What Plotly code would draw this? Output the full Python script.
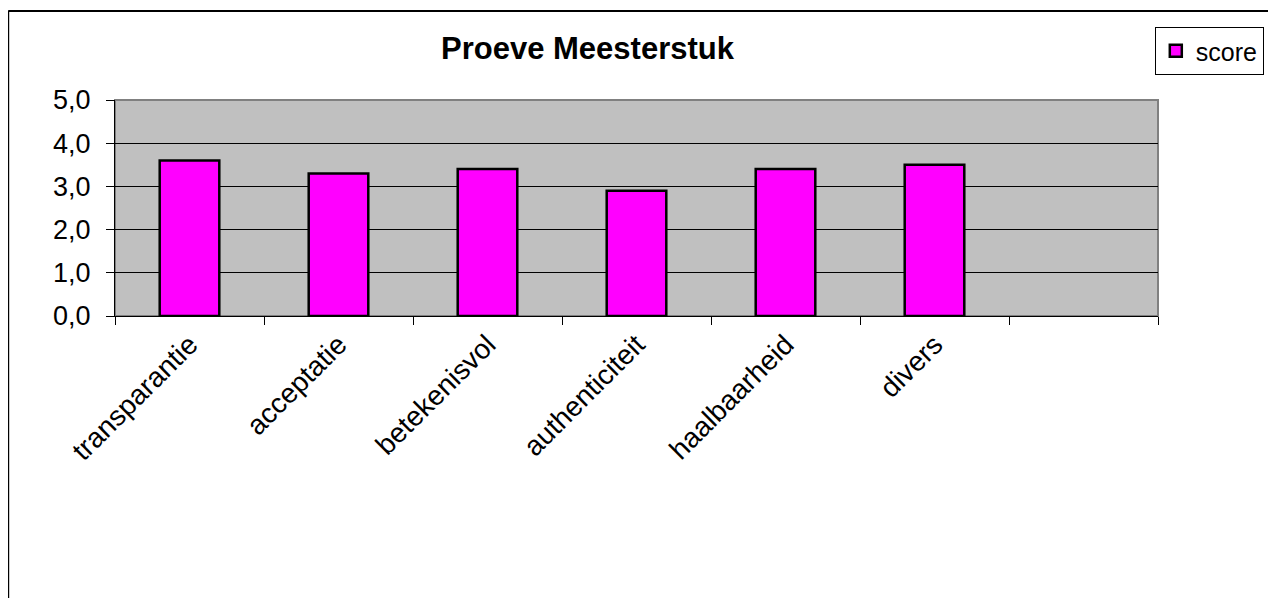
import plotly.graph_objects as go

categories = ["transparantie", "acceptatie", "betekenisvol", "authenticiteit", "haalbaarheid", "divers"]
extra_category = [" "]
scores = [3.6, 3.3, 3.4, 2.9, 3.4, 3.5]
series_name = "score"
title_text = "Proeve Meesterstuk"

OFF = 8  # page body margin in the browser
W, H = 1276 - OFF, 598 - OFF
L, R, T, B = 115 - OFF, 1160 - OFF, 100 - OFF, 316 - OFF  # plot area in figure pixels

def px_x(p):
    return (p - OFF - L) / (R - L)

def px_y(p):
    return (B - (p - OFF)) / (B - T)

FONT = "Liberation Sans, Arial, sans-serif"

fig = go.Figure()
fig.add_trace(go.Bar(
    x=categories, y=scores, name=series_name,
    marker=dict(color="#FF00FF", line=dict(color="black", width=2.5)),
    showlegend=True,
))

fig.update_layout(
    width=W, height=H,
    margin=dict(l=L, r=W - R, t=T, b=H - B, pad=0),
    paper_bgcolor="white",
    plot_bgcolor="#C0C0C0",
    separators=",.",
    bargap=0.6,
    font=dict(family=FONT, color="black", size=27),
    title=dict(text="<b>" + title_text + "</b>", x=(587.5 - OFF) / W, xref="container", xanchor="center",
               y=1 - (48 - OFF) / H, yref="container", yanchor="middle",
               font=dict(family=FONT, size=31, color="black")),
    legend=dict(x=px_x(1266), xanchor="right", y=px_y(27), yanchor="top",
                bordercolor="black", borderwidth=1, bgcolor="white",
                font=dict(family=FONT, size=25, color="black")),
    xaxis=dict(type="category", categoryorder="array", categoryarray=categories + extra_category,
               range=[-0.5, len(categories) + len(extra_category) - 0.5],
               tickson="boundaries", ticks="outside", ticklen=8, tickcolor="black", tickwidth=1,
               tickangle=-45, showline=True, linecolor="black", linewidth=1,
               showgrid=False, zeroline=False, tickfont=dict(size=28)),
    yaxis=dict(range=[0, 5], dtick=1, tickformat=".1f", ticks="outside", ticklen=8,
               tickcolor="black", tickwidth=1, showline=True, linecolor="black", linewidth=1,
               showgrid=True, gridcolor="black", gridwidth=1, zeroline=False,
               ticklabelstandoff=10, tickfont=dict(size=27)),
    shapes=[
        dict(type="rect", xref="paper", yref="paper", x0=0, x1=1, y0=0, y1=1,
             line=dict(color="#808080", width=2), layer="below"),
        dict(type="line", xref="paper", yref="paper", x0=px_x(8), x1=px_x(1290), y0=px_y(11), y1=px_y(11),
             line=dict(color="black", width=2)),
        dict(type="line", xref="paper", yref="paper", x0=px_x(8), x1=px_x(8), y0=px_y(11), y1=px_y(610),
             line=dict(color="black", width=2)),
    ],
)

fig.write_html("out.html")
